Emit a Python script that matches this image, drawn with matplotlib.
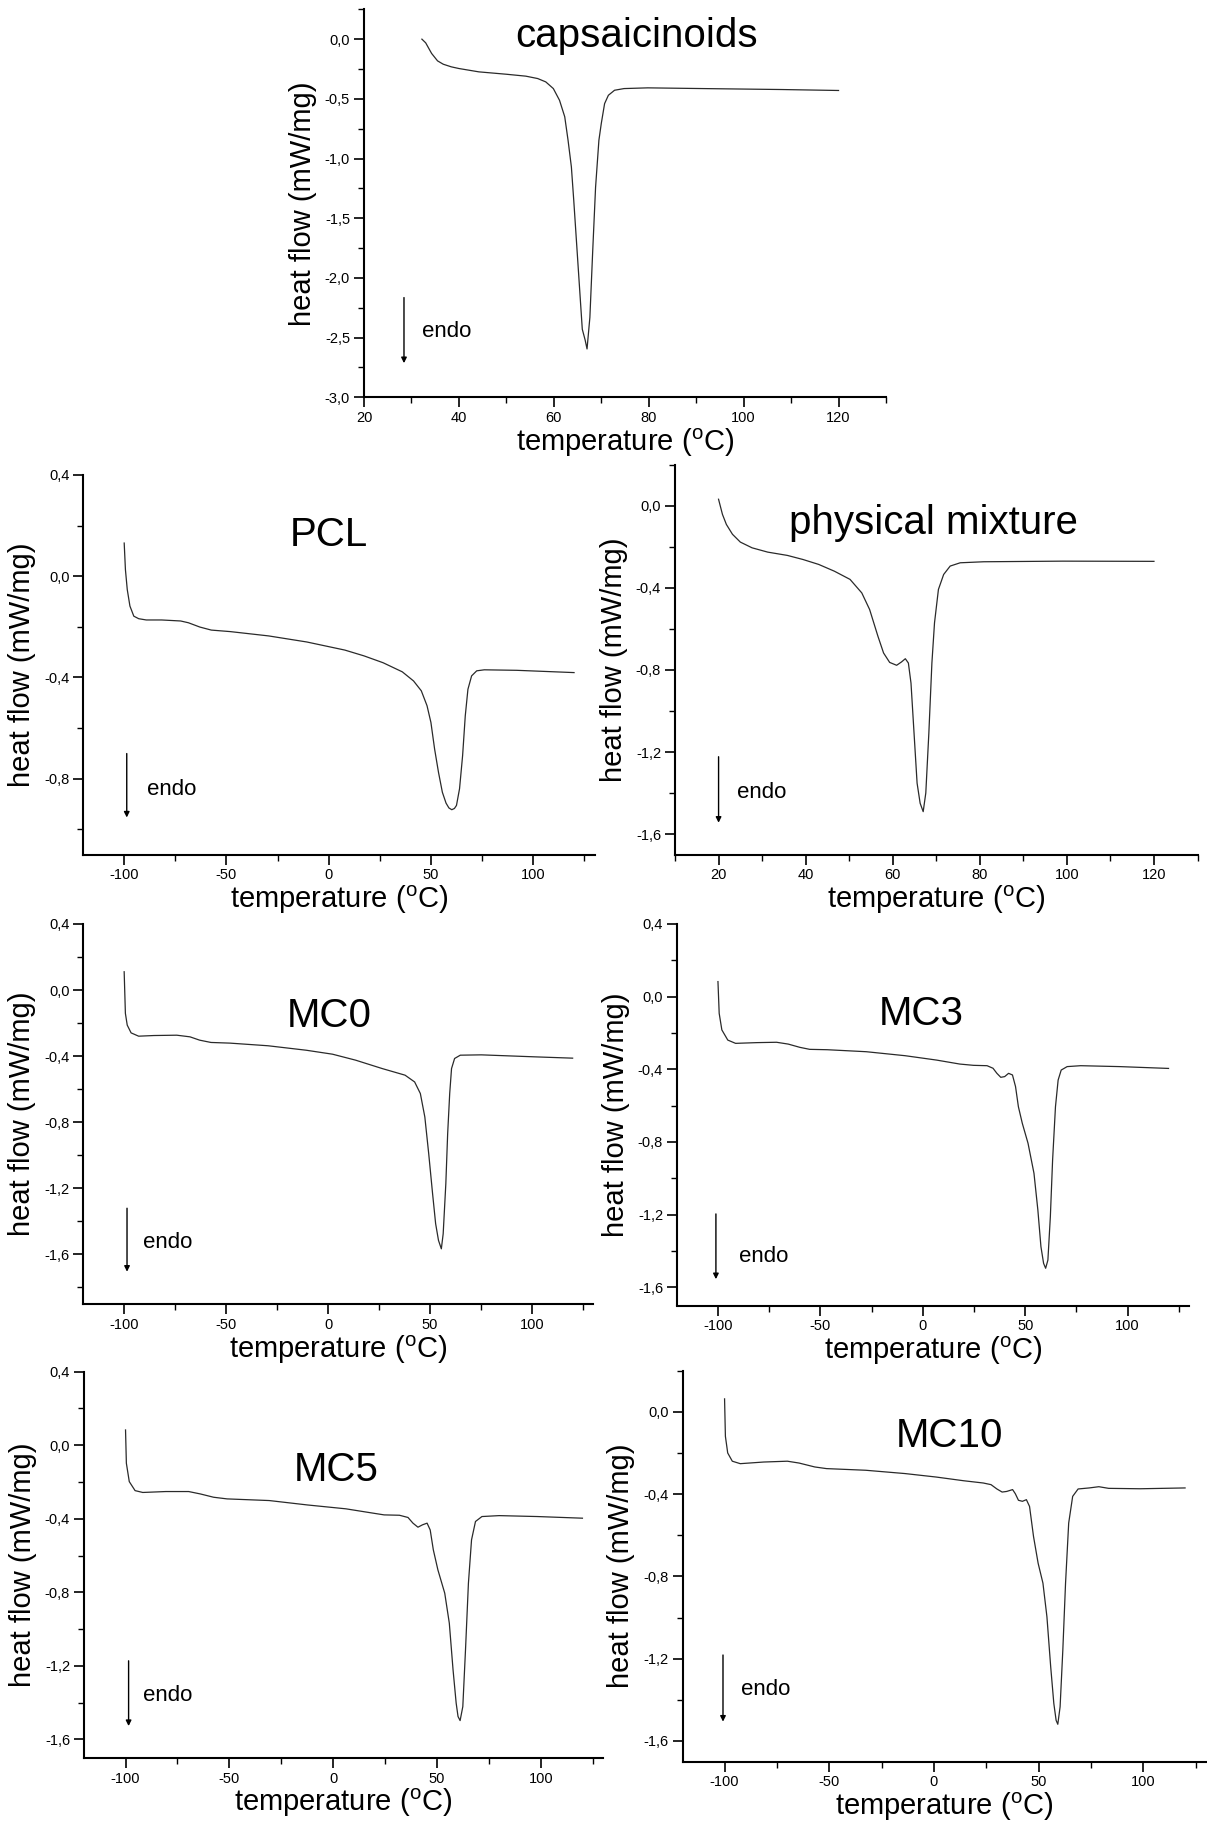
import matplotlib
matplotlib.use("Agg")
import matplotlib.pyplot as plt
from matplotlib.ticker import MultipleLocator, FuncFormatter

plt.rcParams['font.family'] = ['Liberation Sans', 'DejaVu Sans']
plt.rcParams['mathtext.default'] = 'regular'
plt.rcParams['axes.unicode_minus'] = False

# ---- DSC curves (temperature in C, heat flow in mW/mg) ----
caps_T = [32.2, 33.0, 34.25, 35.5, 36.7, 38.4, 40.0, 44.2, 50.0, 54.1, 56.6, 58.3, 59.9,
          61.2, 62.3, 63.0, 63.7, 64.2, 64.9, 65.5, 66.0, 66.6, 67.0, 67.6, 68.2, 68.8,
          69.5, 70.0, 70.7, 71.5, 72.8, 74.8, 79.8, 91.4, 108.0, 120.0]
caps_H = [0.0, -0.031, -0.12, -0.182, -0.21, -0.232, -0.246, -0.274, -0.294, -0.31,
          -0.33, -0.358, -0.414, -0.512, -0.65, -0.847, -1.07, -1.35, -1.77, -2.13,
          -2.43, -2.52, -2.595, -2.33, -1.77, -1.24, -0.847, -0.707, -0.54, -0.47,
          -0.428, -0.414, -0.408, -0.414, -0.422, -0.43]

pcl_T = [-100, -99.4, -98.5, -97.2, -95.3, -92.9, -89.2, -81.7, -72.4, -68.6, -63.0,
         -57.4, -48.1, -29.4, -10.7, 7.9, 17.3, 26.6, 36.0, 41.5, 45.3, 48.1, 50.0,
         51.8, 53.7, 55.6, 57.4, 58.8, 60.2, 61.5, 62.5, 64.0, 65.5, 66.8, 68.1, 69.9,
         72.4, 76.1, 92.0, 120.0]
pcl_H = [0.131, 0.026, -0.053, -0.118, -0.158, -0.168, -0.173, -0.173, -0.177, -0.184,
         -0.201, -0.213, -0.219, -0.236, -0.26, -0.292, -0.315, -0.342, -0.378, -0.414,
         -0.453, -0.512, -0.578, -0.683, -0.775, -0.854, -0.897, -0.916, -0.923, -0.918,
         -0.906, -0.84, -0.709, -0.552, -0.447, -0.394, -0.374, -0.37, -0.372, -0.381]

mix_T = [20.0, 20.9, 21.8, 23.2, 25.0, 27.7, 31.3, 35.8, 39.4, 43.0, 46.6, 50.2, 52.9,
         54.7, 56.6, 57.9, 59.3, 60.9, 62.0, 62.9, 63.6, 64.2, 64.9, 65.6, 66.3, 67.0,
         67.6, 68.3, 69.0, 69.6, 70.5, 71.7, 73.2, 75.5, 80.9, 99.0, 120.0]
mix_H = [0.033, -0.041, -0.09, -0.138, -0.176, -0.204, -0.225, -0.241, -0.261, -0.285,
         -0.318, -0.358, -0.424, -0.505, -0.635, -0.717, -0.763, -0.777, -0.761, -0.745,
         -0.766, -0.864, -1.108, -1.352, -1.45, -1.491, -1.40, -1.108, -0.766, -0.57,
         -0.407, -0.334, -0.293, -0.277, -0.272, -0.269, -0.27]

mc0_T = [-100, -99.4, -98.5, -96.6, -92.9, -85.4, -74.2, -67.7, -63.0, -57.4, -48.1,
         -29.4, -10.7, 2.2, 13.5, 26.6, 37.8, 42.5, 45.3, 47.5, 49.4, 51.3, 52.8, 54.2,
         55.6, 56.5, 57.8, 58.7, 59.7, 60.6, 62.1, 64.9, 75.2, 101.3, 120.0]
mc0_H = [0.111, -0.141, -0.212, -0.259, -0.279, -0.275, -0.273, -0.283, -0.303, -0.317,
         -0.321, -0.337, -0.364, -0.388, -0.424, -0.475, -0.515, -0.556, -0.626, -0.768,
         -0.99, -1.232, -1.414, -1.515, -1.566, -1.475, -1.172, -0.869, -0.626, -0.475,
         -0.414, -0.394, -0.392, -0.404, -0.412]

mc3_T = [-100, -99.4, -98.1, -95.2, -91.4, -81.0, -71.4, -65.7, -60.0, -55.2, -46.7,
         -27.6, -8.6, 6.7, 18.1, 24.8, 31.4, 34.3, 36.2, 38.1, 40.0, 41.9, 43.8, 45.3,
         46.7, 48.6, 51.4, 54.3, 56.2, 57.7, 59.0, 60.0, 61.1, 62.3, 63.4, 64.8, 66.1,
         67.6, 70.5, 77.1, 96.2, 120.0]
mc3_H = [0.083, -0.092, -0.183, -0.239, -0.257, -0.253, -0.251, -0.261, -0.279, -0.29,
         -0.292, -0.303, -0.325, -0.349, -0.371, -0.378, -0.38, -0.394, -0.422, -0.444,
         -0.44, -0.422, -0.431, -0.495, -0.606, -0.697, -0.807, -0.972, -1.174, -1.376,
         -1.468, -1.495, -1.45, -1.211, -0.899, -0.606, -0.459, -0.404, -0.385, -0.38,
         -0.385, -0.395]

mc5_T = [-100, -99.6, -98.2, -95.4, -91.7, -80.6, -69.6, -64.0, -57.6, -51.1, -30.8,
         -12.4, 6.1, 17.2, 24.5, 31.9, 36.0, 38.4, 40.8, 43.0, 45.2, 46.7, 48.2, 50.4,
         53.7, 55.9, 57.7, 59.2, 60.1, 61.1, 62.4, 63.7, 65.1, 66.6, 68.5, 71.6, 79.9,
         98.3, 120.0]
mc5_H = [0.083, -0.098, -0.198, -0.247, -0.257, -0.252, -0.252, -0.265, -0.283, -0.292,
         -0.301, -0.325, -0.346, -0.366, -0.379, -0.381, -0.393, -0.424, -0.446, -0.433,
         -0.424, -0.461, -0.569, -0.678, -0.805, -0.968, -1.222, -1.403, -1.476, -1.498,
         -1.422, -1.113, -0.751, -0.515, -0.415, -0.388, -0.383, -0.388, -0.397]

mc10_T = [-100, -99.6, -98.5, -96.3, -92.5, -81.3, -70.0, -64.4, -56.9, -51.3, -32.6,
          -13.9, 1.1, 14.2, 23.6, 27.3, 30.1, 32.6, 34.8, 37.6, 38.9, 40.4, 42.3, 44.2,
          45.7, 47.6, 49.8, 52.1, 54.0, 55.8, 57.3, 58.4, 59.2, 60.3, 61.6, 62.9, 64.4,
          66.3, 68.9, 74.2, 78.8, 83.5, 98.5, 120.0]
mc10_H = [0.063, -0.119, -0.2, -0.24, -0.252, -0.244, -0.24, -0.249, -0.268, -0.276,
          -0.284, -0.3, -0.317, -0.335, -0.346, -0.354, -0.375, -0.39, -0.387, -0.378,
          -0.398, -0.43, -0.435, -0.427, -0.46, -0.606, -0.736, -0.833, -0.996, -1.239,
          -1.418, -1.5, -1.519, -1.434, -1.158, -0.833, -0.541, -0.411, -0.375, -0.37,
          -0.364, -0.372, -0.374, -0.37]

W, H = 1207, 1823
fig = plt.figure(figsize=(W / 100, H / 100), dpi=100)

ylab = 'heat flow (mW/mg)'
xlab = 'temperature ($^{o}$C)'
comma = FuncFormatter(lambda v, p: f"{v:.1f}".replace('.', ','))
intfmt = FuncFormatter(lambda v, p: f"{v:.0f}")


def panel(rect, T, Hf, title, title_xy, xlim, xmaj, xmin, ylim, ymaj, ymin,
          arrow, endo_xy):
    ax = fig.add_axes(rect)
    ax.plot(T, Hf, color='#2a2a2a', lw=0.9)
    ax.set_xlim(*xlim)
    ax.set_ylim(*ylim)
    for s in ['top', 'right']:
        ax.spines[s].set_visible(False)
    for s in ['left', 'bottom']:
        ax.spines[s].set_linewidth(1.5)
    ax.xaxis.set_major_locator(MultipleLocator(xmaj))
    ax.xaxis.set_minor_locator(MultipleLocator(xmin))
    ax.yaxis.set_major_locator(MultipleLocator(ymaj))
    ax.yaxis.set_minor_locator(MultipleLocator(ymin))
    ax.xaxis.set_major_formatter(intfmt)
    ax.yaxis.set_major_formatter(comma)
    ax.tick_params(which='major', direction='out', length=7, width=1.2,
                   labelsize=10.5, pad=3)
    ax.tick_params(which='minor', direction='out', length=4.5, width=1.0)
    ax.set_xlabel(xlab, fontsize=21, labelpad=1)
    ax.set_ylabel(ylab, fontsize=21, labelpad=6)
    ax.text(title_xy[0], title_xy[1], title, transform=ax.transAxes,
            fontsize=29, ha='center', va='baseline')
    ax.annotate('', xy=(arrow[0], arrow[2]), xytext=(arrow[0], arrow[1]),
                xycoords='axes fraction',
                arrowprops=dict(arrowstyle='-|>', color='black', lw=1.0,
                                mutation_scale=8, shrinkA=0, shrinkB=0))
    ax.text(endo_xy[0], endo_xy[1], 'endo', transform=ax.transAxes,
            fontsize=16, ha='left', va='baseline')
    return ax


def rect(l, r, t, b):
    return [l / W, 1 - b / H, (r - l) / W, (b - t) / H]


panel(rect(364, 886, 9.3, 397.3), caps_T, caps_H, 'capsaicinoids', (0.522, 0.904),
      (20, 130), 20, 10, (-3.0, 0.25), 0.5, 0.25, (0.0766, 0.257, 0.088), (0.111, 0.156))

panel(rect(83.3, 594.5, 475, 854.5), pcl_T, pcl_H, 'PCL', (0.48, 0.812),
      (-120, 130), 50, 25, (-1.1, 0.4), 0.4, 0.2, (0.085, 0.266, 0.0975), (0.124, 0.157))

panel(rect(675, 1197.5, 465, 854.5), mix_T, mix_H, 'physical mixture', (0.494, 0.824),
      (10, 130), 20, 10, (-1.7, 0.2), 0.4, 0.2, (0.0834, 0.251, 0.0816), (0.118, 0.144))

panel(rect(83.4, 593, 924, 1304), mc0_T, mc0_H, 'MC0', (0.482, 0.729),
      (-120, 130), 50, 25, (-1.9, 0.4), 0.4, 0.2, (0.0856, 0.252, 0.085), (0.116, 0.147))

panel(rect(677, 1189, 924, 1305.5), mc3_T, mc3_H, 'MC3', (0.4775, 0.735),
      (-120, 130), 50, 25, (-1.7, 0.4), 0.4, 0.2, (0.076, 0.24, 0.069), (0.122, 0.115))

panel(rect(84, 603.2, 1371.7, 1757.7), mc5_T, mc5_H, 'MC5', (0.4855, 0.717),
      (-120, 130), 50, 25, (-1.7, 0.4), 0.4, 0.2, (0.0859, 0.251, 0.082), (0.113, 0.148))

panel(rect(682.7, 1206, 1370.7, 1761.5), mc10_T, mc10_H, 'MC10', (0.51, 0.805),
      (-120, 130), 50, 25, (-1.7, 0.2), 0.4, 0.2, (0.077, 0.2725, 0.102), (0.112, 0.170))

fig.savefig('out.png', dpi=100, facecolor='white')
